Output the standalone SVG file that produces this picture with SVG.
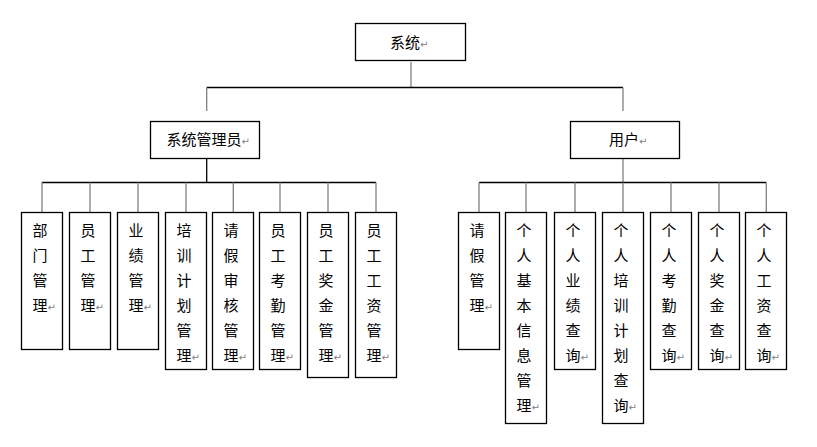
<svg xmlns="http://www.w3.org/2000/svg" width="817" height="447" viewBox="0 0 817 447">
<style>
.box{fill:#fff;stroke:#000;stroke-width:1.3}
.t{font-family:"Noto Sans CJK SC","Noto Sans",sans-serif;font-size:15px;fill:#000}
.r{fill:#808080;font-size:10px;font-family:"DejaVu Sans",sans-serif}
.k{stroke:#000;stroke-width:1.3;fill:none}
.g{stroke:#808080;stroke-width:1.3;fill:none}
</style>
<rect width="817" height="447" fill="#fff"/>
<g id="connectors">
<path class="g" d="M411 62V87.5"/>
<path class="k" d="M206.7 87.5H623"/>
<path class="g" d="M206.7 87.5V111M623 87.5V111"/>
<path class="k" d="M206.7 158.5V182.5"/>
<path class="g" d="M623 158.5V182.5"/>
<path class="k" d="M42 182.5H376M479 182.5H766.3"/>
<path class="g" d="M42 182.5V212.5M90 182.5V212.5M138 182.5V212.5M186 182.5V212.5M233.3 182.5V212.5M280 182.5V212.5M328 182.5V212.5M376 182.5V212.5"/>
<path class="g" d="M479 182.5V212.5M526 182.5V212.5M575 182.5V212.5M623 182.5V212.5M671 182.5V212.5M719 182.5V212.5M766.3 182.5V212.5"/>
</g>
<g id="n-root"><rect class="box" x="355.5" y="23.5" width="110" height="37"/><text class="t" x="390" y="48">系统<tspan class="r">↵</tspan></text></g>
<g id="n-admin"><rect class="box" x="150.5" y="121.5" width="109" height="37"/><text class="t" x="166.5" y="145">系统管理员<tspan class="r">↵</tspan></text></g>
<g id="n-user"><rect class="box" x="570.5" y="121.5" width="109" height="37"/><text class="t" x="609" y="145">用户<tspan class="r">↵</tspan></text></g>

<g id="n-l1"><rect class="box" x="21.5" y="212.5" width="41" height="137"/><text class="t" y="236"><tspan x="32.5">部</tspan><tspan x="32.5" dy="25">门</tspan><tspan x="32.5" dy="25">管</tspan><tspan x="32.5" dy="25">理</tspan><tspan class="r">↵</tspan></text></g>
<g id="n-l2"><rect class="box" x="69.5" y="212.5" width="41" height="137"/><text class="t" y="236"><tspan x="80.5">员</tspan><tspan x="80.5" dy="25">工</tspan><tspan x="80.5" dy="25">管</tspan><tspan x="80.5" dy="25">理</tspan><tspan class="r">↵</tspan></text></g>
<g id="n-l3"><rect class="box" x="117.5" y="212.5" width="41" height="137"/><text class="t" y="236"><tspan x="128.5">业</tspan><tspan x="128.5" dy="25">绩</tspan><tspan x="128.5" dy="25">管</tspan><tspan x="128.5" dy="25">理</tspan><tspan class="r">↵</tspan></text></g>
<g id="n-l4"><rect class="box" x="165.5" y="212.5" width="41" height="157"/><text class="t" y="236"><tspan x="176.5">培</tspan><tspan x="176.5" dy="25">训</tspan><tspan x="176.5" dy="25">计</tspan><tspan x="176.5" dy="25">划</tspan><tspan x="176.5" dy="25">管</tspan><tspan x="176.5" dy="25">理</tspan><tspan class="r">↵</tspan></text></g>
<g id="n-l5"><rect class="box" x="212.5" y="212.5" width="41" height="157"/><text class="t" y="236"><tspan x="223.5">请</tspan><tspan x="223.5" dy="25">假</tspan><tspan x="223.5" dy="25">审</tspan><tspan x="223.5" dy="25">核</tspan><tspan x="223.5" dy="25">管</tspan><tspan x="223.5" dy="25">理</tspan><tspan class="r">↵</tspan></text></g>
<g id="n-l6"><rect class="box" x="259.5" y="212.5" width="41" height="157"/><text class="t" y="236"><tspan x="270.5">员</tspan><tspan x="270.5" dy="25">工</tspan><tspan x="270.5" dy="25">考</tspan><tspan x="270.5" dy="25">勤</tspan><tspan x="270.5" dy="25">管</tspan><tspan x="270.5" dy="25">理</tspan><tspan class="r">↵</tspan></text></g>
<g id="n-l7"><rect class="box" x="307.5" y="212.5" width="41" height="165"/><text class="t" y="236"><tspan x="318.5">员</tspan><tspan x="318.5" dy="25">工</tspan><tspan x="318.5" dy="25">奖</tspan><tspan x="318.5" dy="25">金</tspan><tspan x="318.5" dy="25">管</tspan><tspan x="318.5" dy="25">理</tspan><tspan class="r">↵</tspan></text></g>
<g id="n-l8"><rect class="box" x="355.5" y="212.5" width="41" height="165"/><text class="t" y="236"><tspan x="366.5">员</tspan><tspan x="366.5" dy="25">工</tspan><tspan x="366.5" dy="25">工</tspan><tspan x="366.5" dy="25">资</tspan><tspan x="366.5" dy="25">管</tspan><tspan x="366.5" dy="25">理</tspan><tspan class="r">↵</tspan></text></g>

<g id="n-r1"><rect class="box" x="458.5" y="212.5" width="41" height="137"/><text class="t" y="236"><tspan x="469.5">请</tspan><tspan x="469.5" dy="25">假</tspan><tspan x="469.5" dy="25">管</tspan><tspan x="469.5" dy="25">理</tspan><tspan class="r">↵</tspan></text></g>
<g id="n-r2"><rect class="box" x="505.5" y="212.5" width="41" height="211"/><text class="t" y="236"><tspan x="516.5">个</tspan><tspan x="516.5" dy="25">人</tspan><tspan x="516.5" dy="25">基</tspan><tspan x="516.5" dy="25">本</tspan><tspan x="516.5" dy="25">信</tspan><tspan x="516.5" dy="25">息</tspan><tspan x="516.5" dy="25">管</tspan><tspan x="516.5" dy="25">理</tspan><tspan class="r">↵</tspan></text></g>
<g id="n-r3"><rect class="box" x="554.5" y="212.5" width="41" height="157"/><text class="t" y="236"><tspan x="565.5">个</tspan><tspan x="565.5" dy="25">人</tspan><tspan x="565.5" dy="25">业</tspan><tspan x="565.5" dy="25">绩</tspan><tspan x="565.5" dy="25">查</tspan><tspan x="565.5" dy="25">询</tspan><tspan class="r">↵</tspan></text></g>
<g id="n-r4"><rect class="box" x="602.5" y="212.5" width="41" height="211"/><text class="t" y="236"><tspan x="613.5">个</tspan><tspan x="613.5" dy="25">人</tspan><tspan x="613.5" dy="25">培</tspan><tspan x="613.5" dy="25">训</tspan><tspan x="613.5" dy="25">计</tspan><tspan x="613.5" dy="25">划</tspan><tspan x="613.5" dy="25">查</tspan><tspan x="613.5" dy="25">询</tspan><tspan class="r">↵</tspan></text></g>
<g id="n-r5"><rect class="box" x="650.5" y="212.5" width="41" height="157"/><text class="t" y="236"><tspan x="661.5">个</tspan><tspan x="661.5" dy="25">人</tspan><tspan x="661.5" dy="25">考</tspan><tspan x="661.5" dy="25">勤</tspan><tspan x="661.5" dy="25">查</tspan><tspan x="661.5" dy="25">询</tspan><tspan class="r">↵</tspan></text></g>
<g id="n-r6"><rect class="box" x="698.5" y="212.5" width="41" height="157"/><text class="t" y="236"><tspan x="709.5">个</tspan><tspan x="709.5" dy="25">人</tspan><tspan x="709.5" dy="25">奖</tspan><tspan x="709.5" dy="25">金</tspan><tspan x="709.5" dy="25">查</tspan><tspan x="709.5" dy="25">询</tspan><tspan class="r">↵</tspan></text></g>
<g id="n-r7"><rect class="box" x="745.5" y="212.5" width="41" height="157"/><text class="t" y="236"><tspan x="756.5">个</tspan><tspan x="756.5" dy="25">人</tspan><tspan x="756.5" dy="25">工</tspan><tspan x="756.5" dy="25">资</tspan><tspan x="756.5" dy="25">查</tspan><tspan x="756.5" dy="25">询</tspan><tspan class="r">↵</tspan></text></g>
</svg>
